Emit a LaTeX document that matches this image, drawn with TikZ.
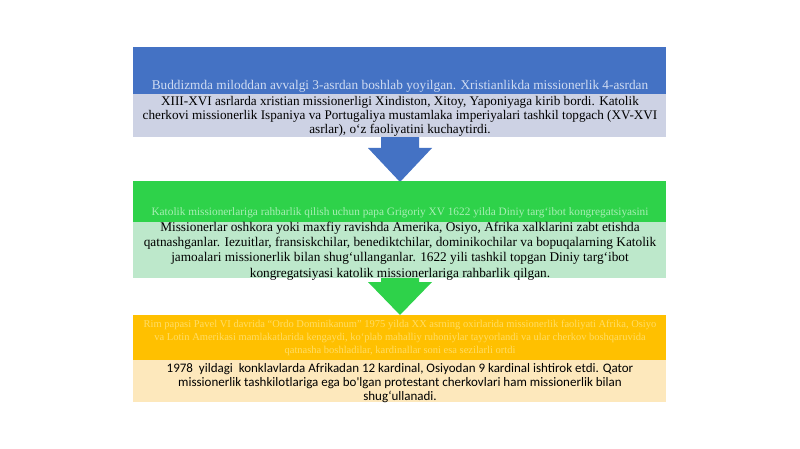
\documentclass[tikz,border=0pt]{standalone}
\usepackage{fontspec}
\setmainfont{Liberation Serif}
\newfontfamily\calfont{Carlito}
\definecolor{bhead}{HTML}{4472C4}
\definecolor{bbody}{HTML}{CDD2E4}
\definecolor{btxt}{HTML}{D0DCF2}
\definecolor{ghead}{HTML}{2ED24A}
\definecolor{gbody}{HTML}{BDE8CB}
\definecolor{gtxt}{HTML}{A8EFB4}
\definecolor{yhead}{HTML}{FFC000}
\definecolor{ybody}{HTML}{FDE8BC}
\definecolor{ytxt}{HTML}{FFDD66}
\begin{document}
\begin{tikzpicture}[x=1pt,y=-1pt,
  hdr/.style={draw=none, minimum width=533pt, inner sep=0pt, anchor=north west, rectangle},
  bodytxt/.style={text width=528pt, align=flush center, inner sep=0pt, font=\fontsize{13}{14}\selectfont}]
\useasboundingbox (0,0) rectangle (800,449);
\fill[white] (0,0) rectangle (800,449);
% arrows (drawn first, the boxes cover their stems)
\fill[bhead] (381,130) -- (419,130) -- (419,148) -- (432,148) -- (400,182) -- (368,148) -- (381,148) -- cycle;
\fill[ghead] (381,262) -- (419,262) -- (419,282) -- (432,282) -- (400,315) -- (368,282) -- (381,282) -- cycle;
% box 1
\node[hdr, fill=bhead, minimum height=47pt] (b1h) at (133,47) {};
\node[bodytxt, text=btxt, font=\fontsize{13.3}{14}\selectfont] (b1ht) at (400,86) {Buddizmda miloddan avvalgi 3-asrdan boshlab yoyilgan. Xristianlikda missionerlik 4-asrdan};
\node[hdr, fill=bbody, minimum height=43pt] (b1b) at (133,94) {};
\node[bodytxt, text width=530pt, font=\fontsize{13.2}{14}\selectfont] (b1t) at (400,116) {XIII-XVI asrlarda xristian missionerligi Xindiston, Xitoy, Yaponiyaga kirib bordi. Katolik\\ cherkovi missionerlik Ispaniya va Portugaliya mustamlaka imperiyalari tashkil topgach (XV-XVI\\ asrlar), o‘z faoliyatini kuchaytirdi.};
% box 2
\node[hdr, fill=ghead, minimum height=46pt] (b2h) at (133,181) {};
\node[bodytxt, text=gtxt, font=\fontsize{11.3}{14}\selectfont] (b2ht) at (400,213) {Katolik missionerlariga rahbarlik qilish uchun papa Grigoriy XV 1622 yilda Diniy targ‘ibot kongregatsiyasini};
\node[hdr, fill=gbody, minimum height=56pt] (b2b) at (133,222) {};
\node[bodytxt, font=\fontsize{13.3}{15.3}\selectfont] (b2t) at (400,251) {Missionerlar oshkora yoki maxfiy ravishda Amerika, Osiyo, Afrika xalklarini zabt etishda\\ qatnashganlar. Iezuitlar, fransiskchilar, benediktchilar, dominikochilar va bopuqalarning Katolik\\ jamoalari missionerlik bilan shug‘ullanganlar. 1622 yili tashkil topgan Diniy targ‘ibot\\ kongregatsiyasi katolik missionerlariga rahbarlik qilgan.};
% box 3
\node[hdr, fill=yhead, minimum height=45pt] (b3h) at (133,315) {};
\node[bodytxt, text width=522pt, text=ytxt, font=\fontsize{10.5}{13}\selectfont] (b3ht) at (400,338) {Rim papasi Pavel VI davrida “Ordo Dominikanum” 1975 yilda XX asrning oxirlarida missionerlik faoliyati Afrika, Osiyo va Lotin Amerikasi mamlakatlarida kengaydi, ko‘plab mahalliy ruhoniylar tayyorlandi va ular cherkov boshqaruvida qatnasha boshladilar, kardinallar soni esa sezilarli ortdi};
\node[hdr, fill=ybody, minimum height=42pt] (b3b) at (133,360) {};
\node[bodytxt, text width=500pt, font=\calfont\fontsize{13}{14}\selectfont] (b3t) at (400,383) {1978~ yildagi~ konklavlarda Afrikadan 12 kardinal, Osiyodan 9 kardinal ishtirok etdi. Qator\\ missionerlik tashkilotlariga ega bo'lgan protestant cherkovlari ham missionerlik bilan\\ shug‘ullanadi.};
\end{tikzpicture}
\end{document}
